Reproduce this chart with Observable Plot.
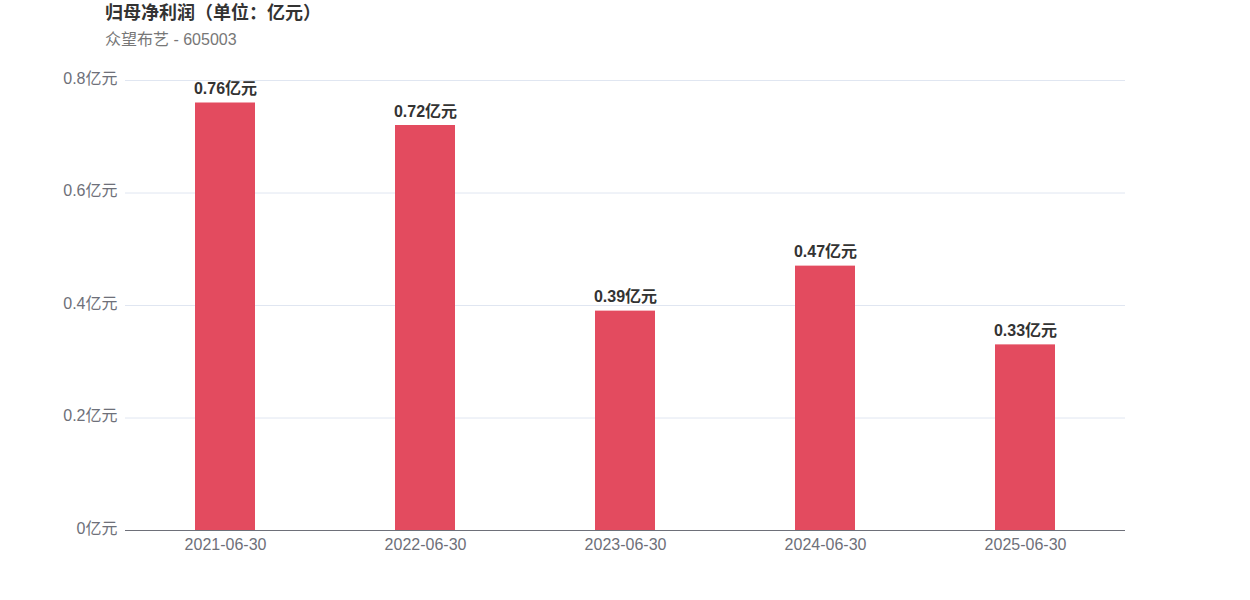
<!DOCTYPE html>
<html><head><meta charset="utf-8">
<script src="https://cdn.jsdelivr.net/npm/d3@7"></script>
<script src="https://cdn.jsdelivr.net/npm/@observablehq/plot@0.6"></script>
<style>
body{margin:0;background:#fff;font-family:"Liberation Sans",Arial,"Noto Sans CJK SC",sans-serif;}
#head{position:relative;height:60px;width:1250px;}
#title{position:absolute;left:105px;top:2px;font-size:18px;font-weight:bold;color:#333;line-height:22px;}
#sub{position:absolute;left:105px;top:30px;font-size:16px;color:#777;line-height:20px;}
</style></head><body>
<div id="head"><div id="title">归母净利润（单位：亿元）</div><div id="sub">众望布艺 - 605003</div></div>
<div id="chart"></div>
<script>
const dates = ["2021-06-30","2022-06-30","2023-06-30","2024-06-30","2025-06-30"];
const values = [0.76,0.72,0.39,0.47,0.33];
const yTicks = [0,0.2,0.4,0.6,0.8];
const data = dates.map((d,i)=>({date:d,value:values[i]}));
const fmt = v => (v===0?"0":String(v)) + "亿元";
const chart = Plot.plot({
  width:1250, height:540,
  marginTop:20, marginBottom:70, marginLeft:125, marginRight:125,
  style:{fontFamily:'"Liberation Sans",Arial,"Noto Sans CJK SC",sans-serif',fontSize:"16px",background:"#fff"},
  x:{domain:dates,paddingInner:0.7,paddingOuter:0.35,label:null,tickSize:0,tickPadding:8},
  y:{domain:[0,0.8],label:null,ticks:yTicks,tickFormat:fmt,tickSize:0,tickPadding:8},
  marks:[
    Plot.gridY(yTicks.slice(1),{stroke:"#e0e6f1",strokeOpacity:1}),
    Plot.barY(data,{x:"date",y:"value",fill:"#e34b5f"}),
    Plot.ruleY([0],{stroke:"#6e7079",strokeWidth:1}),
    Plot.axisX({tickSize:0,tickPadding:8,fill:"#6e7079",fontSize:16}),
    Plot.axisY({ticks:yTicks,tickFormat:fmt,tickSize:0,tickPadding:8,dy:-2,fill:"#6e7079",fontSize:16}),
    Plot.text(data,{x:"date",y:"value",text:d=>fmt(d.value),dy:-14,fontWeight:"bold",fill:"#333",fontSize:16})
  ]
});
document.getElementById("chart").appendChild(chart);
</script>
</body></html>
